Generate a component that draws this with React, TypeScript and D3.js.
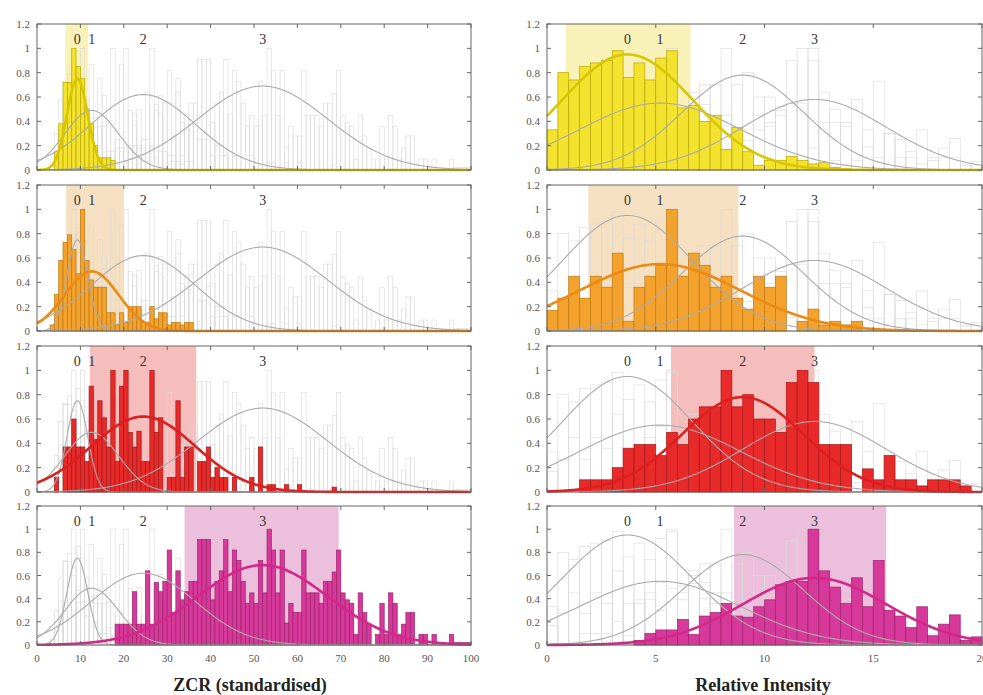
import * as d3 from "d3";

// ---- data ----
const yTicks = [0, 0.2, 0.4, 0.6, 0.8, 1, 1.2];
const zcrTicks = [0, 10, 20, 30, 40, 50, 60, 70, 80, 90, 100];
const intensityTicks = [0, 5, 10, 15, 20];
const componentLabels = ["0", "1", "2", "3"];

// gaussian mixture components (mean, sd, peak height)
const zcrMeans = [9.3, 12.6, 24.5, 52];
const zcrSds = [2.4, 6.2, 12, 15];
const zcrPeaks = [0.75, 0.49, 0.62, 0.69];
const intMeans = [3.7, 5.2, 9.0, 12.3];
const intSds = [3.0, 3.7, 2.8, 3.3];
const intPeaks = [0.95, 0.55, 0.78, 0.58];

// highlighted range of each cluster
const zcrRanges = [[6.5, 11.8], [6.7, 20], [12.2, 36.7], [34, 69.5]];
const intRanges = [[0.86, 6.6], [1.9, 8.8], [5.7, 12.3], [8.6, 15.6]];

// ZCR histograms, 1 unit bins; first bin index + heights
const zcrYellowStart = 4;
const zcrYellow = [0.15, 0.38, 0.72, 0.72, 1.0, 0.85, 0.75, 0.5, 0.38, 0.2, 0.1, 0.1, 0.1, 0.08];
const zcrOrangeStart = 3;
const zcrOrange = [0.05, 0.3, 0.58, 0.73, 0.79, 0.67, 0.47, 1.0, 0.58, 0.42, 0.36, 0.36, 0.36, 0.15, 0.15, 0.05, 0.15,
  0.07, 0.2, 0.2, 0.2, 0.07, 0.07, 0.2, 0.1, 0.15, 0.15, 0.05, 0.07, 0.07, 0.05, 0.07, 0.07];
const zcrRedStart = 4;
const zcrRed = [0.12, 0, 0.37, 0.37, 0.6, 0.37, 0.37, 0.25, 0.87, 0.43, 0.75, 0.61, 0.37, 1.0, 0.25, 0.87, 1.0, 0.49,
  0.37, 0.5, 0.25, 0.25, 1.0, 0.49, 0.61, 0, 0.12, 0.12, 0.75, 0.12, 0.37, 0.37, 0, 0.25, 0.25, 0.37, 0.12, 0.2, 0.12,
  0.12, 0, 0.12, 0, 0, 0, 0.12, 0, 0.37, 0, 0.06, 0.06, 0, 0, 0.06, 0, 0, 0.06, 0, 0, 0, 0, 0, 0, 0, 0.04];
const zcrMagentaStart = 18;
const zcrMagenta = [0.18, 0.18, 0.18, 0.18, 0.46, 0.18, 0.18, 0.64, 0.18, 0.54, 0.46, 0.55, 0.82, 0.28, 0.64, 0.39,
  0.46, 0.55, 0.55, 0.91, 0.91, 0.91, 0.39, 0.55, 0.64, 0.91, 0.46, 0.82, 0.73, 0.55, 0.36, 0.45, 0.36, 0.73, 0.45,
  1.0, 0.82, 0.45, 0.82, 0.19, 0.36, 0.28, 0.28, 0.82, 0.45, 0.45, 0.45, 0.36, 0.55, 0.55, 0.63, 0.82, 0.45, 0.39,
  0.36, 0.09, 0.45, 0.28, 0.18, 0, 0.09, 0.36, 0.09, 0.45, 0.36, 0.09, 0.18, 0.28, 0.28, 0, 0.09, 0.09, 0, 0.09, 0,
  0, 0, 0.09, 0.02, 0.02, 0.02, 0.02];

// Relative intensity histograms, 0.5 unit bins (40 bins over 0-20)
const intYellow = [0.33, 0.8, 0.74, 0.85, 0.88, 0.9, 0.98, 0.76, 0.88, 0.74, 0.92, 0.98, 0.51, 0.53, 0.4, 0.45, 0.17,
  0.35, 0.15, 0.04, 0.08, 0.08, 0.11, 0.08, 0.05, 0.06, 0.02, 0.01, 0, 0, 0, 0, 0, 0, 0, 0, 0, 0, 0, 0];
const intOrange = [0.17, 0.27, 0.45, 0.27, 0.45, 0.36, 0.64, 0.08, 0.36, 0.45, 0.54, 1.0, 0.45, 0.64, 0.54, 0.36, 0.45,
  0.27, 0.18, 0.45, 0.36, 0.45, 0, 0.08, 0.18, 0.05, 0.08, 0.05, 0.08, 0, 0, 0, 0, 0, 0, 0, 0, 0, 0, 0];
const intRed = [0, 0, 0, 0.1, 0.1, 0.1, 0.2, 0.36, 0.39, 0.39, 0.3, 0.49, 0.39, 0.6, 0.7, 0.7, 1.0, 0.7, 0.8, 0.6, 0.6,
  0.49, 0.9, 1.0, 0.9, 0.39, 0.39, 0.39, 0, 0.19, 0.1, 0.3, 0.1, 0.1, 0.05, 0.1, 0.1, 0.1, 0.05, 0];
const intMagenta = [0, 0, 0, 0, 0, 0, 0, 0, 0.04, 0.1, 0.13, 0.13, 0.22, 0.09, 0.25, 0.28, 0.36, 0.25, 0.24, 0.33,
  0.39, 0.52, 0.55, 0.55, 1.0, 0.64, 0.5, 0.36, 0.58, 0.33, 0.73, 0.3, 0.25, 0.15, 0.33, 0.08, 0.18, 0.26, 0.04, 0.07];

// ---- styling ----
const clusterFill = ["#f3e22e", "#f3a22e", "#e82a2a", "#d7399a"];
const clusterStroke = ["#b9a700", "#c07810", "#a61919", "#9e236e"];
const clusterShade = ["#f8f1b8", "#f6e0c2", "#f6bdbd", "#ecc0dd"];
const clusterLine = ["#d8c700", "#ec8a12", "#dc1f1f", "#d3278a"];

const panelTop = [24, 185, 346, 506];
const panelBottom = [170, 331, 492, 645];
const font = "'Liberation Serif', 'Times New Roman', serif";

function place(start: number, vals: number[], n: number) {
  const out = new Array(n).fill(0);
  vals.forEach((v, i) => { if (start + i < n) out[start + i] = v; });
  return out;
}

const sides = [
  {
    x0: 37, x1: 471, max: 100, binW: 1, ticks: zcrTicks, yLabelX: 30, titleX: 250,
    title: "ZCR (standardised)",
    hists: [place(zcrYellowStart, zcrYellow, 100), place(zcrOrangeStart, zcrOrange, 100),
      place(zcrRedStart, zcrRed, 100), place(zcrMagentaStart, zcrMagenta, 100)],
    means: zcrMeans, sds: zcrSds, peaks: zcrPeaks, ranges: zcrRanges,
  },
  {
    x0: 547, x1: 982, max: 20, binW: 0.5, ticks: intensityTicks, yLabelX: 540, titleX: 763,
    title: "Relative Intensity",
    hists: [intYellow, intOrange, intRed, intMagenta],
    means: intMeans, sds: intSds, peaks: intPeaks, ranges: intRanges,
  },
];

const gauss = (x: number, m: number, s: number, p: number) => p * Math.exp(-((x - m) ** 2) / (2 * s * s));

function Panel({ side, k }: { side: any; k: number }) {
  const top = panelTop[k], bottom = panelBottom[k];
  const x = d3.scaleLinear().domain([0, side.max]).range([side.x0, side.x1]);
  const y = d3.scaleLinear().domain([0, 1.2]).range([bottom, top]);
  const xs = d3.range(0, side.max + 0.001, side.max / 400);
  const line = (c: number) =>
    d3.line<number>().x((v) => x(v)).y((v) => y(gauss(v, side.means[c], side.sds[c], side.peaks[c])))(xs) || "";

  const bars = (h: number[]) =>
    h.map((v, i) => (v > 0 ? { x: x(i * side.binW), w: x((i + 1) * side.binW) - x(i * side.binW), y: y(v), v } : null))
      .filter(Boolean) as any[];

  const [lo, hi] = side.ranges[k];
  return (
    <g>
      <rect x={x(lo)} y={top} width={x(hi) - x(lo)} height={bottom - top} fill={clusterShade[k]} />
      {side.hists.map((h: number[], c: number) =>
        c === k ? null : bars(h).map((b, i) => (
          <rect key={`f${c}-${i}`} x={b.x} y={b.y} width={b.w} height={bottom - b.y}
            fill="none" stroke="#d9d9d9" strokeWidth={0.6} />
        ))
      )}
      {bars(side.hists[k]).map((b, i) => (
        <rect key={`b${i}`} x={b.x} y={b.y} width={b.w} height={bottom - b.y}
          fill={clusterFill[k]} stroke={clusterStroke[k]} strokeWidth={0.7} />
      ))}
      {side.means.map((_: number, c: number) =>
        c === k ? null : <path key={`g${c}`} d={line(c)} fill="none" stroke="#ababab" strokeWidth={1.1} />
      )}
      <path d={line(k)} fill="none" stroke={clusterLine[k]} strokeWidth={2.6} />
      {/* frame and inward ticks */}
      <rect x={side.x0} y={top} width={side.x1 - side.x0} height={bottom - top} fill="none" stroke="#666" strokeWidth={1} />
      {side.ticks.map((t: number) => (
        <g key={`xt${t}`}>
          <line x1={x(t)} x2={x(t)} y1={bottom} y2={bottom - 4} stroke="#666" />
          <line x1={x(t)} x2={x(t)} y1={top} y2={top + 4} stroke="#666" />
        </g>
      ))}
      {yTicks.map((t) => (
        <g key={`yt${t}`}>
          <line x1={side.x0} x2={side.x0 + 4} y1={y(t)} y2={y(t)} stroke="#666" />
          <line x1={side.x1} x2={side.x1 - 4} y1={y(t)} y2={y(t)} stroke="#666" />
          <text x={side.yLabelX} y={y(t) + 4} textAnchor="end" fontSize={11} fill="#555" fontFamily={font}>
            {String(+t.toFixed(1))}
          </text>
        </g>
      ))}
      {componentLabels.map((l, c) => (
        <text key={`l${c}`} x={x(side.means[c])} y={top + 20} textAnchor="middle" fontSize={14} fill="#333" fontFamily={font}>
          {l}
        </text>
      ))}
      {k === 3 &&
        side.ticks.map((t: number) => (
          <text key={`xl${t}`} x={x(t)} y={bottom + 17} textAnchor="middle" fontSize={11} fill="#555" fontFamily={font}>
            {t}
          </text>
        ))}
    </g>
  );
}

export default function App() {
  return (
    <svg width={983} height={695} style={{ position: "absolute", left: 0, top: 0, background: "#fff" }}>
      <rect width={983} height={695} fill="#fff" />
      {sides.map((side, s) => (
        <g key={s}>
          {[0, 1, 2, 3].map((k) => <Panel key={k} side={side} k={k} />)}
          <text x={side.titleX} y={691} textAnchor="middle" fontSize={18} fontWeight="bold" fill="#222" fontFamily={font}>
            {side.title}
          </text>
        </g>
      ))}
    </svg>
  );
}
